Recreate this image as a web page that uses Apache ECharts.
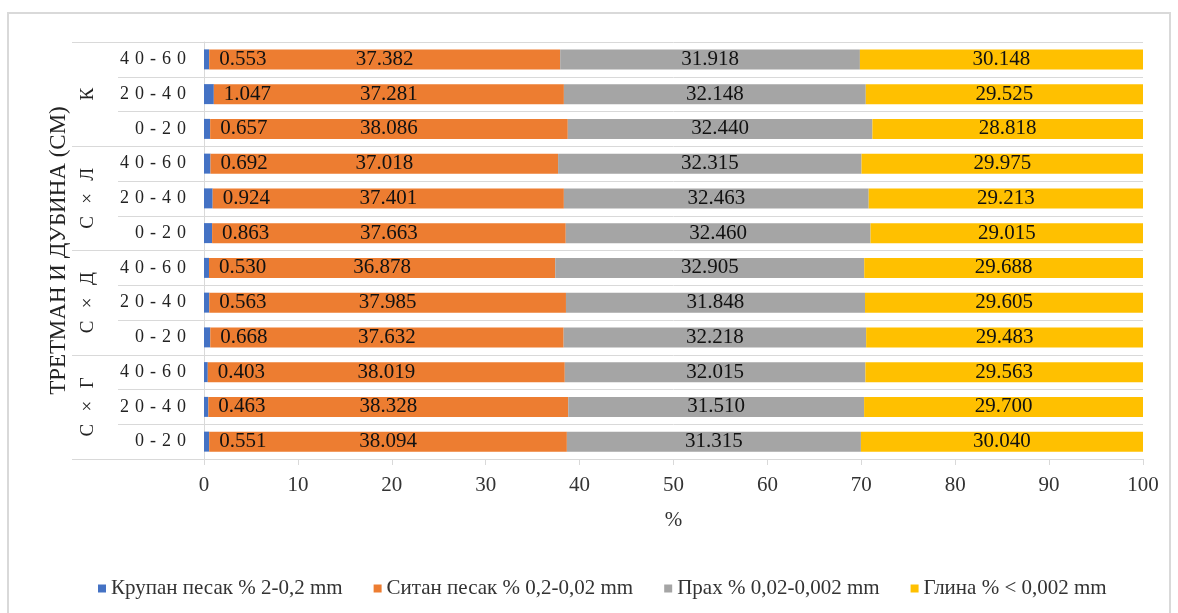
<!DOCTYPE html>
<html>
<head>
<meta charset="utf-8">
<script src="https://cdn.jsdelivr.net/npm/echarts@6/dist/echarts.min.js"></script>
<style>
  html, body { margin: 0; padding: 0; background: #fff; }
  #chart { width: 1178px; height: 613px; }
</style>
</head>
<body>
<div id="chart"></div>
<script>
// Rows run bottom-to-top: each treatment has three depth layers.
const treatments = ['С × Г', 'С × Д', 'С × Л', 'К'];
const depths = ['0-20', '20-40', '40-60'];
const rowLabels = ['0-20', '20-40', '40-60', '0-20', '20-40', '40-60',
                   '0-20', '20-40', '40-60', '0-20', '20-40', '40-60'];

const seriesNames = [
  'Крупан песак % 2-0,2 mm',
  'Ситан песак % 0,2-0,02 mm',
  'Прах % 0,02-0,002 mm',
  'Глина % < 0,002 mm'
];

// Coarse sand
const coarseSand = [0.551, 0.463, 0.403, 0.668, 0.563, 0.530,
                    0.863, 0.924, 0.692, 0.657, 1.047, 0.553];
// Fine sand
const fineSand = [38.094, 38.328, 38.019, 37.632, 37.985, 36.878,
                  37.663, 37.401, 37.018, 38.086, 37.281, 37.382];
// Silt
const silt = [31.315, 31.510, 32.015, 32.218, 31.848, 32.905,
              32.460, 32.463, 32.315, 32.440, 32.148, 31.918];
// Clay
const clay = [30.040, 29.700, 29.563, 29.483, 29.605, 29.688,
              29.015, 29.213, 29.975, 28.818, 29.525, 30.148];

const xTicks = [0, 10, 20, 30, 40, 50, 60, 70, 80, 90, 100];

const colors = ['#4472C4', '#ED7D31', '#A5A5A5', '#FFC000'];
const FONT = '"Liberation Serif", "Times New Roman", serif';
const GRID_LINE = '#d9d9d9';
const SPACED = '\u2004';

const chart = echarts.init(document.getElementById('chart'), null, { renderer: 'canvas' });

function makeSeries(name, data, idx) {
  const label = {
    show: true,
    color: '#111',
    fontFamily: FONT,
    fontSize: 21,
    offset: [0, 1],
    formatter: p => p.value.toFixed(3)
  };
  if (idx === 0) {
    label.position = 'right';
    label.distance = 10;
  } else {
    label.position = 'inside';
  }
  return {
    name: name,
    type: 'bar',
    stack: 'total',
    yAxisIndex: 0,
    barWidth: 20,
    itemStyle: { color: colors[idx] },
    label: label,
    labelLayout: { hideOverlap: false },
    z: 2,
    data: data
  };
}

chart.setOption({
  animation: false,
  color: colors,
  textStyle: { fontFamily: FONT },
  grid: { left: 204, right: 35, top: 42, bottom: 154, containLabel: false },
  legend: {
    top: 573,
    left: 93,
    icon: 'rect',
    itemWidth: 8,
    itemHeight: 8,
    itemGap: 31,
    textStyle: { fontFamily: FONT, fontSize: 21, color: '#333' },
    data: seriesNames
  },
  xAxis: {
    type: 'value',
    min: 0,
    max: 100,
    interval: 10,
    axisLine: { show: false },
    axisTick: { show: true, length: 6, lineStyle: { color: GRID_LINE } },
    splitLine: { show: false },
    axisLabel: {
      margin: 16,
      fontFamily: FONT,
      fontSize: 21,
      color: '#333',
      formatter: v => xTicks.indexOf(v) >= 0 ? String(v) : ''
    },
    name: '%',
    nameLocation: 'middle',
    nameGap: 51,
    nameTextStyle: { fontFamily: FONT, fontSize: 21, color: '#333' }
  },
  yAxis: [
    {
      type: 'category',
      position: 'left',
      data: rowLabels,
      axisLine: { show: true, lineStyle: { color: GRID_LINE } },
      axisTick: { show: true, length: 86, alignWithLabel: false, lineStyle: { color: GRID_LINE } },
      splitLine: { show: true, lineStyle: { color: GRID_LINE, width: 1 } },
      axisLabel: {
        margin: 18,
        fontFamily: FONT,
        fontSize: 18,
        color: '#222',
        formatter: v => v.split('').join(SPACED)
      }
    },
    {
      type: 'category',
      position: 'left',
      offset: 0,
      data: treatments,
      axisLine: { show: false },
      axisTick: { show: true, length: 132, alignWithLabel: false, lineStyle: { color: GRID_LINE } },
      splitLine: { show: false },
      axisLabel: {
        rotate: 90,
        margin: 106,
        fontFamily: FONT,
        fontSize: 19,
        color: '#222',
        formatter: v => v.split('').join('\u2009')
      },
      name: 'ТРЕТМАН И ДУБИНА (СМ)',
      nameLocation: 'middle',
      nameRotate: 90,
      nameGap: 134,
      nameTextStyle: { fontFamily: FONT, fontSize: 23, color: '#222' }
    }
  ],
  graphic: [
    {
      type: 'rect',
      silent: true,
      shape: { x: 8, y: 13, width: 1162, height: 640 },
      style: { fill: 'none', stroke: GRID_LINE, lineWidth: 2 }
    }
  ],
  series: [
    makeSeries(seriesNames[0], coarseSand, 0),
    makeSeries(seriesNames[1], fineSand, 1),
    makeSeries(seriesNames[2], silt, 2),
    makeSeries(seriesNames[3], clay, 3)
  ]
});
</script>
</body>
</html>
